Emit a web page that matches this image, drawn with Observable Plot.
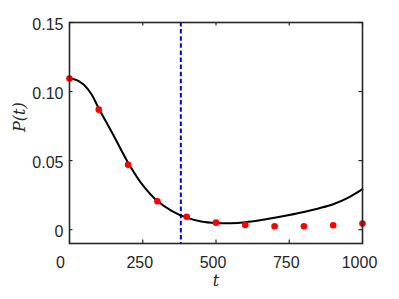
<!DOCTYPE html>
<html>
<head>
<meta charset="utf-8">
<script src="https://cdn.jsdelivr.net/npm/d3@7"></script>
<script src="https://cdn.jsdelivr.net/npm/@observablehq/plot@0.6"></script>
<style>
  html, body { margin: 0; padding: 0; background: #fff; }
  svg { display: block; }
</style>
</head>
<body>
<div id="chart"></div>
<script>
// Model curve (estimated)
const curveT = [0, 25, 50, 75, 100, 150, 200, 250, 300, 350, 400, 450, 500, 550, 600, 650, 700, 750, 800, 850, 900, 950, 1000];
const curveP = [0.1093, 0.1083, 0.1047, 0.0980, 0.0878, 0.0684, 0.0485, 0.0322, 0.0207, 0.0135, 0.0087, 0.0059, 0.0048, 0.0047, 0.0054, 0.0068, 0.0086, 0.0106, 0.0128, 0.0154, 0.0184, 0.0230, 0.0293];
// Observed points (estimated)
const obsT = [0, 100, 200, 300, 400, 500, 600, 700, 800, 900, 1000];
const obsP = [0.1094, 0.0869, 0.047, 0.0206, 0.0094, 0.0051, 0.0034, 0.0025, 0.0025, 0.0032, 0.0044];
// Vertical marker
const markerT = [380];
// Ticks
const xTicks = [0, 250, 500, 750, 1000];
const yTicks = [0, 0.05, 0.10, 0.15];

const curve = curveT.map((t, i) => ({t, p: curveP[i]}));
const obs = obsT.map((t, i) => ({t, p: obsP[i]}));

const W = 399, H = 299;
const mL = 69, mR = 37, mT = 22, mB = 56;
const plotH = H - mT - mB;
const plotW = W - mL - mR;
const tickLen = 3.5;
const frameColor = "#262626";
const tickFont = "Liberation Sans, Arial, Helvetica, sans-serif";
const labelStyle = {letterSpacing: "0.8px"};

const chart = Plot.plot({
  width: W,
  height: H,
  marginLeft: mL,
  marginRight: mR,
  marginTop: mT,
  marginBottom: mB,
  style: {fontFamily: tickFont, background: "#fff"},
  x: {domain: [0, 1000]},
  y: {domain: [-0.01, 0.15]},
  marks: [
    Plot.axisX(xTicks.filter(d => d !== 0), {
      anchor: "bottom", tickSize: 0, tickPadding: 13, fontSize: 16, dx: -3,
      label: null, fill: frameColor, tickFormat: d => String(d), style: labelStyle
    }),
    Plot.axisX(xTicks.filter(d => d === 0), {
      anchor: "bottom", tickSize: 0, tickPadding: 13, fontSize: 16, dx: -9,
      label: null, fill: frameColor, tickFormat: d => String(d), style: labelStyle
    }),
    Plot.axisY(yTicks, {
      anchor: "left", tickSize: 0, tickPadding: 6, fontSize: 16, dy: 2,
      label: null, fill: frameColor,
      tickFormat: d => d === 0 ? "0" : d.toFixed(2), style: labelStyle
    }),
    // inward ticks
    Plot.tickX(xTicks, {x: d => d, insetTop: plotH - tickLen, stroke: frameColor, strokeWidth: 1.2}),
    Plot.tickX(xTicks, {x: d => d, insetBottom: plotH - tickLen, stroke: frameColor, strokeWidth: 1.2}),
    Plot.tickY(yTicks, {y: d => d, insetRight: plotW - tickLen, stroke: frameColor, strokeWidth: 1.2}),
    Plot.tickY(yTicks, {y: d => d, insetLeft: plotW - tickLen, stroke: frameColor, strokeWidth: 1.2}),
    Plot.ruleX(markerT, {x: d => d, stroke: "#0000ff", strokeWidth: 2, strokeDasharray: "4.5,2.6"}),
    Plot.line(curve, {x: "t", y: "p", stroke: "#000", strokeWidth: 2, curve: "catmull-rom"}),
    Plot.dot(obs, {x: "t", y: "p", r: 3.3, fill: "#ff0000", stroke: "none"}),
    Plot.frame({stroke: frameColor, strokeWidth: 1.6}),
    Plot.text(["t"], {frameAnchor: "bottom", dy: 42, fontFamily: "DejaVu Serif, Liberation Serif, serif", fontStyle: "italic", fontSize: 16, fill: "#262626"}),
    Plot.text(["P(t)"], {frameAnchor: "left", dx: -50, dy: -1, rotate: -90, fontFamily: "DejaVu Serif, Liberation Serif, serif", fontStyle: "italic", fontSize: 16, fill: "#262626"})
  ]
});
document.getElementById("chart").appendChild(chart);
</script>
</body>
</html>
